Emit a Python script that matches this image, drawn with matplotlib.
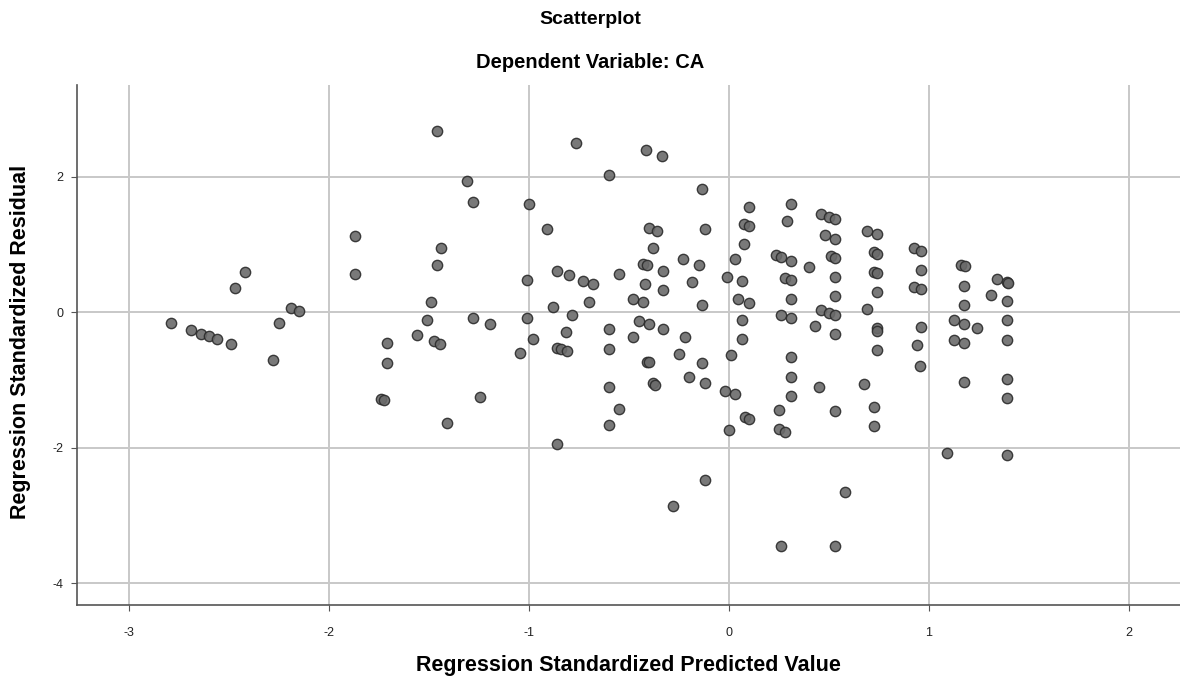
import matplotlib
matplotlib.use("Agg")
import matplotlib.pyplot as plt

plt.rcParams['font.family'] = ['Liberation Sans', 'DejaVu Sans']
plt.rcParams['axes.unicode_minus'] = False

# Regression standardized predicted value (x) and residual (y)
pred = [
    -2.42, -2.47, -2.79, -2.69, -2.64, -2.60, -2.56, -2.49, -2.25, -2.28, -2.19, -2.15,
    -1.46, -1.31, -1.28, -1.00, -1.87, -1.44, -1.46, -1.87, -1.01, -1.49,
    -1.51, -1.28, -1.195, -1.01, -0.98, -1.045, -1.56, -1.475, -1.445, -1.71, -1.71,
    -1.74, -1.725, -1.245, -1.41,
    -0.765, -0.417, -0.334, -0.60, -0.137, -0.91, -0.40, -0.36, -0.12, -0.38, -0.23,
    -0.43, -0.41, -0.15, -0.86, -0.80, -0.73, -0.68, -0.55, -0.33, -0.42, -0.33, -0.185,
    -0.01, -0.88, -0.70, -0.48, -0.43, -0.137,
    -0.785, -0.815, -0.86, -0.84, -0.81, -0.60, -0.60, -0.60, -0.55, -0.60, -0.86,
    -0.45, -0.40, -0.48, -0.33, -0.22, -0.25, -0.41, -0.40, -0.137, -0.38, -0.37, -0.20,
    -0.12, -0.02, 0.00, 0.012, -0.12, -0.28,
    0.10, 0.31, 0.077, 0.10, 0.29, 0.46, 0.50, 0.53, 0.48, 0.53, 0.69, 0.077, 0.03,
    0.235, 0.26, 0.31, 0.40, 0.51, 0.53, 0.063, 0.28, 0.31, 0.53, 0.047, 0.10, 0.31,
    0.53, 0.063, 0.26, 0.31, 0.46, 0.50, 0.53, 0.69, 0.43,
    0.067, 0.53, 0.31, 0.31, 0.31, 0.45, 0.675, 0.032, 0.25, 0.08, 0.10, 0.25, 0.28,
    0.53, 0.725, 0.725, 0.58, 0.26, 0.53,
    0.74, 0.725, 0.74, 0.725, 0.74, 0.74, 0.925, 0.96, 0.96, 0.925, 0.96, 0.74, 0.96,
    1.16, 1.18, 1.175, 1.175, 1.125, 1.175, 1.24, 1.31, 1.34, 1.39, 1.395, 1.39, 1.39,
    0.74, 0.74, 0.94, 0.955, 1.125, 1.175, 1.175, 1.09, 1.39, 1.39, 1.39, 1.39,
]
resid = [
    0.585, 0.35, -0.16, -0.26, -0.32, -0.35, -0.40, -0.47, -0.16, -0.71, 0.06, 0.02,
    2.67, 1.94, 1.62, 1.60, 1.13, 0.95, 0.69, 0.56, 0.48, 0.15,
    -0.12, -0.08, -0.17, -0.08, -0.40, -0.61, -0.34, -0.43, -0.47, -0.46, -0.75,
    -1.28, -1.30, -1.25, -1.64,
    2.49, 2.39, 2.31, 2.02, 1.81, 1.23, 1.24, 1.20, 1.22, 0.94, 0.78,
    0.71, 0.69, 0.69, 0.60, 0.55, 0.46, 0.42, 0.56, 0.60, 0.41, 0.32, 0.44,
    0.52, 0.08, 0.15, 0.19, 0.15, 0.11,
    -0.04, -0.30, -0.53, -0.55, -0.58, -0.25, -0.54, -1.10, -1.43, -1.67, -1.95,
    -0.13, -0.18, -0.37, -0.25, -0.37, -0.62, -0.73, -0.74, -0.75, -1.05, -1.07, -0.96,
    -1.05, -1.16, -1.74, -0.63, -2.47, -2.86,
    1.55, 1.60, 1.30, 1.27, 1.34, 1.45, 1.41, 1.37, 1.14, 1.08, 1.19, 1.01, 0.78,
    0.84, 0.81, 0.76, 0.66, 0.83, 0.80, 0.46, 0.51, 0.47, 0.52, 0.20, 0.14, 0.19,
    0.24, -0.11, -0.04, -0.08, 0.03, -0.01, -0.04, 0.05, -0.20,
    -0.40, -0.33, -0.66, -0.95, -1.23, -1.10, -1.06, -1.21, -1.45, -1.54, -1.57, -1.73, -1.77,
    -1.46, -1.40, -1.68, -2.65, -3.45, -3.45,
    1.15, 0.88, 0.86, 0.59, 0.58, 0.29, 0.94, 0.90, 0.62, 0.37, 0.34, -0.24, -0.22,
    0.69, 0.68, 0.39, 0.10, -0.11, -0.17, -0.23, 0.25, 0.49, 0.45, 0.43, 0.17, -0.12,
    -0.28, -0.56, -0.49, -0.80, -0.41, -0.46, -1.03, -2.08, -0.41, -0.98, -1.26, -2.11,
]

xticks = [-3, -2, -1, 0, 1, 2]
yticks = [-4, -2, 0, 2]

fig = plt.figure(figsize=(11.8, 6.84), dpi=100)
ax = fig.add_axes([77/1180, 79/684, 1103/1180, 520/684])
ax.set_xlim(-3.26, 2.255)
ax.set_ylim(-4.32, 3.35)

ax.set_xticks(xticks)
ax.set_yticks(yticks)
ax.grid(True, color='#c8c8c8', linewidth=1.4)
ax.set_axisbelow(True)

ax.scatter(pred, resid, s=55, facecolor='#6a6a6a', edgecolor='#2b2b2b',
           linewidths=1.0, alpha=0.9, zorder=3)

for side in ['top', 'right']:
    ax.spines[side].set_visible(False)
for side in ['left', 'bottom']:
    ax.spines[side].set_color('#555555')
    ax.spines[side].set_linewidth(1.2)

ax.tick_params(axis='both', labelsize=9, length=4, color='#555555', labelcolor='#222222')
ax.tick_params(axis='x', pad=12)
ax.tick_params(axis='y', pad=6)

fig.text(0.5, 1 - 20/684, 'Scatterplot', ha='center', va='center',
         fontsize=14, fontweight='bold')
fig.text(0.5, 1 - 62/684, 'Dependent Variable: CA', ha='center', va='center',
         fontsize=14.5, fontweight='bold')
ax.set_xlabel('Regression Standardized Predicted Value', fontsize=15.5,
              fontweight='bold')
ax.xaxis.set_label_coords(0.5, -(655 - 605) / 520)
ax.set_ylabel('Regression Standardized Residual', fontsize=15.5,
              fontweight='bold')
ax.yaxis.set_label_coords(-(77 - 31) / 1103, 0.506)

fig.savefig('out.png', dpi=100, facecolor='white')
